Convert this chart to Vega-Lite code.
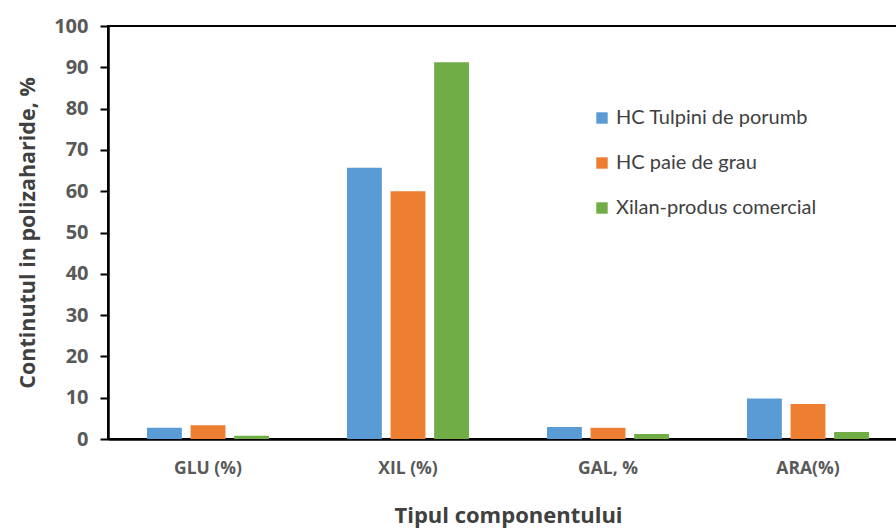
{
  "$schema": "https://vega.github.io/schema/vega-lite/v6.json",
  "autosize": "none",
  "width": 800,
  "height": 413,
  "padding": {"left": 108, "top": 26, "right": 0, "bottom": 93},
  "background": "white",
  "config": {
    "view": {"stroke": "#000000", "strokeWidth": 2},
    "font": "Open Sans"
  },
  "data": {
    "values": [
      {"comp": "GLU (%)", "serie": "HC Tulpini de porumb", "val": 2.7},
      {"comp": "GLU (%)", "serie": "HC paie de grau", "val": 3.3},
      {"comp": "GLU (%)", "serie": "Xilan-produs comercial", "val": 0.8},
      {"comp": "XIL (%)", "serie": "HC Tulpini de porumb", "val": 65.7},
      {"comp": "XIL (%)", "serie": "HC paie de grau", "val": 60.0},
      {"comp": "XIL (%)", "serie": "Xilan-produs comercial", "val": 91.2},
      {"comp": "GAL, %", "serie": "HC Tulpini de porumb", "val": 2.9},
      {"comp": "GAL, %", "serie": "HC paie de grau", "val": 2.7},
      {"comp": "GAL, %", "serie": "Xilan-produs comercial", "val": 1.2},
      {"comp": "ARA(%)", "serie": "HC Tulpini de porumb", "val": 9.8},
      {"comp": "ARA(%)", "serie": "HC paie de grau", "val": 8.5},
      {"comp": "ARA(%)", "serie": "Xilan-produs comercial", "val": 1.7}
    ]
  },
  "mark": {"type": "bar"},
  "encoding": {
    "x": {
      "field": "comp",
      "type": "nominal",
      "sort": ["GLU (%)", "XIL (%)", "GAL, %", "ARA(%)"],
      "scale": {"paddingInner": 0.39, "paddingOuter": 0.195},
      "axis": {
        "title": "Tipul componentului",
        "titleFont": "Open Sans",
        "titleFontSize": 22,
        "titleFontWeight": "bold",
        "titleColor": "#404040",
        "titlePadding": 29,
        "labelAngle": 0,
        "labelFont": "Open Sans",
        "labelFontSize": 17.5,
        "labelFontWeight": "bold",
        "labelColor": "#595959",
        "labelPadding": 20,
        "ticks": false,
        "domainColor": "#000000",
        "domainWidth": 2.5
      }
    },
    "xOffset": {
      "field": "serie",
      "type": "nominal",
      "sort": ["HC Tulpini de porumb", "HC paie de grau", "Xilan-produs comercial"],
      "scale": {"paddingInner": 0.2, "paddingOuter": 0}
    },
    "y": {
      "field": "val",
      "type": "quantitative",
      "scale": {"domain": [0, 100]},
      "axis": {
        "title": "Continutul in polizaharide, %",
        "titleFont": "Open Sans",
        "titleFontSize": 21.5,
        "titleFontWeight": "bold",
        "titleColor": "#404040",
        "titlePadding": 14,
        "values": [0, 10, 20, 30, 40, 50, 60, 70, 80, 90, 100],
        "grid": false,
        "labelFont": "Open Sans",
        "labelFontSize": 20,
        "labelFontWeight": "bold",
        "labelColor": "#595959",
        "labelPadding": 12,
        "tickSize": 8,
        "tickColor": "#000000",
        "tickWidth": 2,
        "domainColor": "#000000",
        "domainWidth": 2.5
      }
    },
    "color": {
      "field": "serie",
      "type": "nominal",
      "sort": ["HC Tulpini de porumb", "HC paie de grau", "Xilan-produs comercial"],
      "scale": {
        "domain": ["HC Tulpini de porumb", "HC paie de grau", "Xilan-produs comercial"],
        "range": ["#5B9BD5", "#ED7D31", "#70AD47"]
      },
      "legend": {
        "title": null,
        "orient": "none",
        "legendX": 484,
        "legendY": 82,
        "symbolType": "square",
        "symbolSize": 130,
        "symbolStrokeWidth": 0,
        "labelFont": "Lato",
        "labelFontSize": 20,
        "labelColor": "#404040",
        "labelOffset": 4,
        "labelLimit": 0,
        "rowPadding": 25
      }
    }
  }
}
